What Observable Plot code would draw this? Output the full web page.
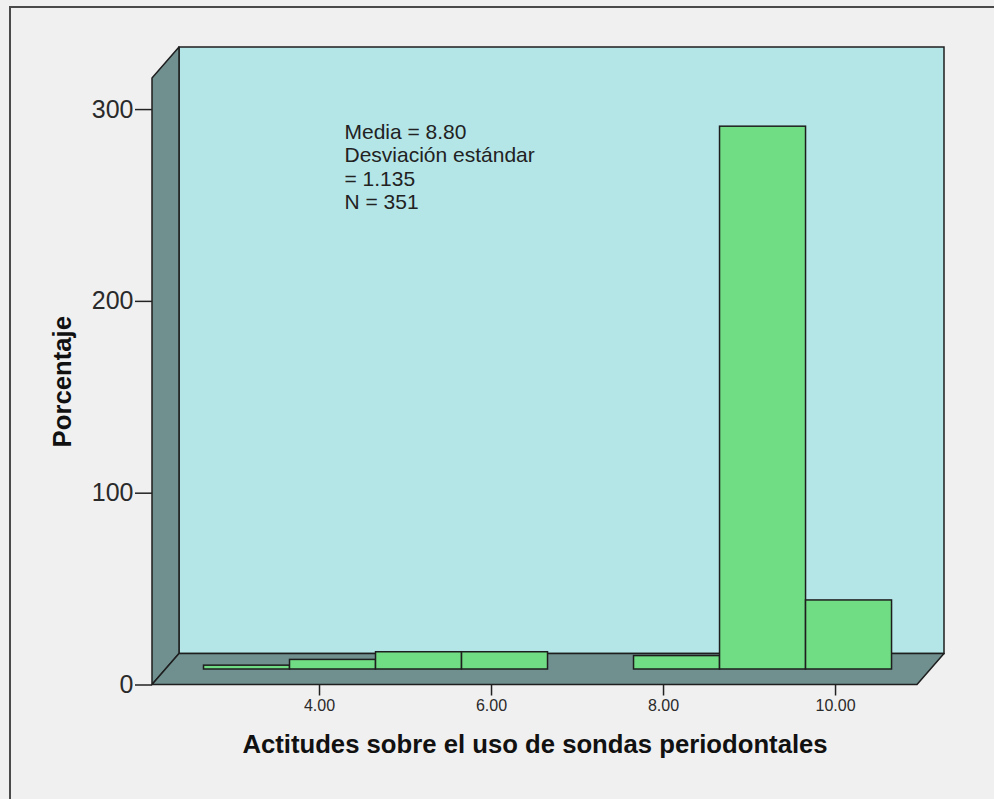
<!DOCTYPE html>
<html>
<head>
<meta charset="utf-8">
<script src="https://cdn.jsdelivr.net/npm/d3@7"></script>
<script src="https://cdn.jsdelivr.net/npm/@observablehq/plot@0.6"></script>
<style>
  html, body { margin: 0; padding: 0; background: #f0f0f0; overflow: hidden; }
  #frame { position: absolute; left: 9px; top: 6px; width: 1100px; height: 900px; border: 2px solid #4a4a4a; box-sizing: border-box; }
  #chart { position: absolute; left: 0; top: 0; }
</style>
</head>
<body>
<div id="frame"></div>
<div id="chart"></div>
<script>
// ---- data ----
const binCenters = [3, 4, 5, 6, 8, 9, 10];
const counts = [2, 5, 9, 9, 7, 283, 36];
const binWidth = 1;
const yTicks = [0, 100, 200, 300];
const xTicks = [4, 6, 8, 10];
const statsLines = ["Media = 8.80", "Desviación estándar", "= 1.135", "N = 351"];
const xTitle = "Actitudes sobre el uso de sondas periodontales";
const yTitle = "Porcentaje";

const bins = binCenters.map((c, i) => ({x1: c - binWidth / 2, x2: c + binWidth / 2, count: counts[i]}));

// ---- style ----
const xDomain = [2.058, 10.953];
const yDomain = [0, 316.2];
const depthX = 27, depthY = -31;
const wallFill = "#b4e6e8";
const sideFill = "#708f8f";
const barFill = "#70dc84";
const edge = "#1e1e1e";
const font = "'Liberation Sans', Arial, sans-serif";

function walls(index, scales) {
  const {x, y} = scales;
  const L = x(xDomain[0]), R = x(xDomain[1]);
  const B = y(yDomain[0]), T = y(yDomain[1]);
  const g = d3.create("svg:g");
  const pts = a => a.map(p => p.join(",")).join(" ");
  g.append("rect")
    .attr("x", L + depthX).attr("y", T + depthY)
    .attr("width", R - L).attr("height", B - T)
    .attr("fill", wallFill).attr("stroke", edge).attr("stroke-width", 1.5);
  g.append("polygon")
    .attr("points", pts([[L, T], [L, B], [L + depthX, B + depthY], [L + depthX, T + depthY]]))
    .attr("fill", sideFill).attr("stroke", edge).attr("stroke-width", 1.5).attr("stroke-linejoin", "round");
  g.append("polygon")
    .attr("points", pts([[L, B], [R, B], [R + depthX, B + depthY], [L + depthX, B + depthY]]))
    .attr("fill", sideFill).attr("stroke", edge).attr("stroke-width", 1.5).attr("stroke-linejoin", "round");
  return g.node();
}

const chart = Plot.plot({
  width: 994,
  height: 799,
  marginLeft: 152,
  marginRight: 77,
  marginTop: 78,
  marginBottom: 114.5,
  x: {domain: xDomain},
  y: {domain: yDomain},
  style: {background: "transparent", fontFamily: font, color: "#222"},
  marks: [
    walls,
    Plot.rect(bins, {
      x1: "x1", x2: "x2", y1: 0, y2: "count",
      dx: depthX / 2, dy: depthY / 2,
      fill: barFill, stroke: edge, strokeWidth: 1.5
    }),
    Plot.axisY({ticks: yTicks, tickSize: 17, tickPadding: 2, fontSize: 25, label: null, stroke: "#222", strokeWidth: 1.5, fill: "#2a2a2a"}),
    Plot.axisX({ticks: xTicks, tickFormat: d3.format(".2f"), tickSize: 11, tickPadding: 4, fontSize: 16, label: null, stroke: "#222", strokeWidth: 1.5, fill: "#2a2a2a"}),
    Plot.text([statsLines.join("\n")], {
      x: 4.29, y: 293.5, textAnchor: "start", lineAnchor: "top",
      fontSize: 21, lineHeight: 1.12, fill: "#222"
    }),
    Plot.text([xTitle], {
      frameAnchor: "bottom", dy: 67.5, lineAnchor: "bottom",
      fontSize: 25.7, fontWeight: "bold", fill: "#111"
    }),
    Plot.text([yTitle], {
      frameAnchor: "left", dx: -82, rotate: -90, lineAnchor: "bottom", textAnchor: "middle",
      fontSize: 25.7, fontWeight: "bold", fill: "#111"
    })
  ]
});
document.getElementById("chart").appendChild(chart);
</script>
</body>
</html>
